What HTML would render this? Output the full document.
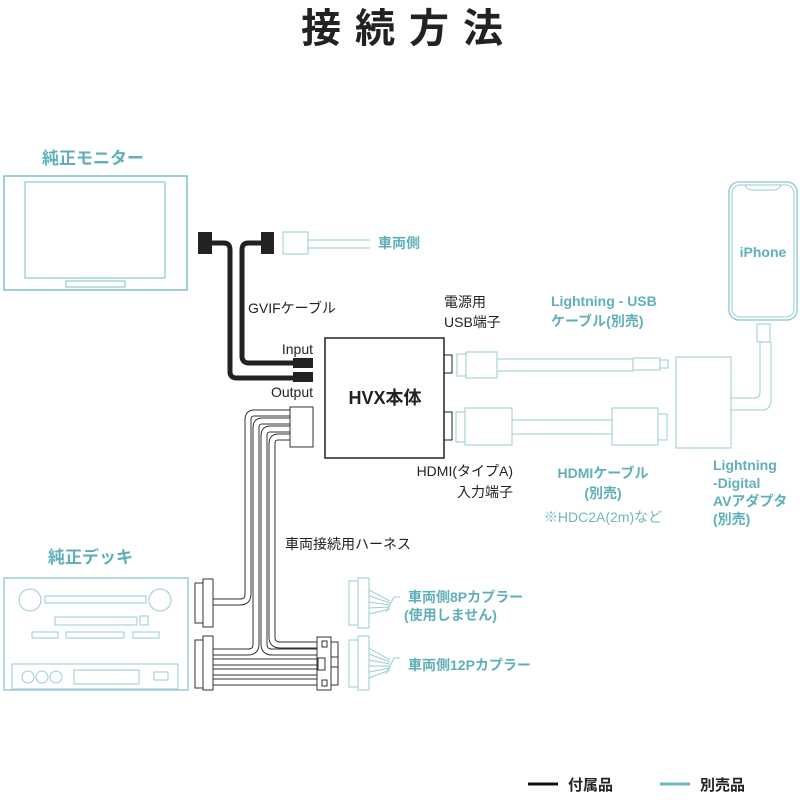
<!DOCTYPE html>
<html><head><meta charset="utf-8"><style>
html,body{margin:0;padding:0;background:#fff}
svg{display:block}
text{font-family:"Liberation Sans","Noto Sans CJK JP",sans-serif}
.t{fill:#5fb0b8;font-weight:bold}
.k{fill:#222}
</style></head><body>
<svg width="800" height="800" viewBox="0 0 800 800">
<text x="409" y="42" text-anchor="middle" font-size="40" font-weight="bold" letter-spacing="14" class="k">接続方法</text>

<!-- monitor -->
<text x="42" y="164" font-size="17" class="t">純正モニター</text>
<rect x="4" y="176" width="183" height="114" fill="none" stroke="#7cbfc5" stroke-width="1.5"/>
<rect x="25" y="182" width="140" height="96" fill="none" stroke="#7cbfc5" stroke-width="1"/>
<rect x="66" y="281" width="59" height="6" fill="none" stroke="#7cbfc5" stroke-width="1"/>

<!-- GVIF -->
<path d="M212 243 H224 Q230 243 230 250 V372 Q230 378 237 378 H295" fill="none" stroke="#222" stroke-width="5"/>
<path d="M261 243 H248 Q242 243 242 250 V356 Q242 363 249 363 H295" fill="none" stroke="#222" stroke-width="5"/>
<rect x="198" y="232" width="14" height="22" fill="#222"/>
<rect x="261" y="232" width="13" height="22" fill="#222"/>
<rect x="293" y="358" width="20" height="10" fill="#222"/>
<rect x="293" y="372" width="20" height="10" fill="#222"/>
<rect x="283" y="232" width="25" height="22" fill="none" stroke="#9acdd1"/>
<path d="M308 240 H370 M308 248 H370" stroke="#9acdd1"/>
<text x="378" y="248" font-size="14" class="t">車両側</text>
<text x="248" y="313" font-size="14" class="k">GVIFケーブル</text>
<text x="313" y="354" font-size="14" class="k" text-anchor="end">Input</text>
<text x="313" y="397" font-size="14" class="k" text-anchor="end">Output</text>

<!-- HVX -->
<rect x="325" y="338" width="119" height="120" fill="#fff" stroke="#222" stroke-width="1.5"/>
<text x="385" y="404" font-size="18" font-weight="bold" class="k" text-anchor="middle">HVX本体</text>
<rect x="444" y="355" width="8" height="18" fill="none" stroke="#222"/>
<rect x="444" y="412" width="8" height="28" fill="none" stroke="#222"/>

<text x="444" y="307" font-size="14" class="k">電源用</text>
<text x="444" y="327" font-size="14" class="k">USB端子</text>
<text x="513" y="476" font-size="14" class="k" text-anchor="end">HDMI(タイプA)</text>
<text x="513" y="497" font-size="14" class="k" text-anchor="end">入力端子</text>

<!-- USB cable -->
<g fill="none" stroke="#9acdd1">
<rect x="457" y="354" width="9" height="22"/>
<rect x="466" y="352" width="31" height="26"/>
<path d="M497 359 H633 M497 371 H633"/>
<rect x="633" y="358" width="27" height="12"/>
<rect x="660" y="360" width="8" height="8"/>
<!-- HDMI cable -->
<rect x="456" y="412" width="9" height="30"/>
<rect x="465" y="408" width="47" height="37"/>
<path d="M512 420 H612 M512 434 H612"/>
<rect x="612" y="408" width="46" height="37"/>
<rect x="658" y="414" width="9" height="26"/>
<!-- adapter -->
<rect x="676" y="357" width="55" height="91"/>
<path d="M731 398 H754 Q760 398 760 392 V342 M731 410 H762 Q771 410 771 400 V342"/>
<rect x="757" y="324" width="13" height="18"/>
<!-- iPhone -->
<rect x="729" y="182" width="68" height="138" rx="10" stroke-width="1.5"/>
<rect x="732" y="185" width="62" height="132" rx="8"/>
<path d="M745 185 Q747 190 752 190 H774 Q779 190 781 185"/>
</g>
<text x="763" y="257" font-size="14" class="t" text-anchor="middle">iPhone</text>
<text x="551" y="306" font-size="14" class="t">Lightning - USB</text>
<text x="551" y="326" font-size="14" class="t">ケーブル(別売)</text>
<text x="603" y="478" font-size="14" class="t" text-anchor="middle">HDMIケーブル</text>
<text x="603" y="498" font-size="14" class="t" text-anchor="middle">(別売)</text>
<text x="603" y="522" font-size="14" fill="#6fb7bd" text-anchor="middle">※HDC2A(2m)など</text>
<text x="713" y="470" font-size="14" class="t">Lightning</text>
<text x="713" y="488" font-size="14" class="t">-Digital</text>
<text x="713" y="506" font-size="14" class="t">AVアダプタ</text>
<text x="713" y="524" font-size="14" class="t">(別売)</text>

<!-- harness -->
<g fill="none" stroke-linejoin="round">
<g stroke="#333" stroke-width="7">
<path d="M292 413 H254 Q248 413 248 420 V594 Q248 602 240 602 H212"/>
<path d="M292 421 H262 Q256 421 256 428 V644 Q256 652 248 652 H212"/>
<path d="M292 429 H270 Q264 429 264 436 V644 Q264 652 272 652 H318"/>
<path d="M292 437 H278 Q272 437 272 444 V637 Q272 645 280 645 H318"/>
<path d="M212 662 H318 M212 672 H318 M212 682 H318"/>
</g>
<g stroke="#fff" stroke-width="5">
<path d="M292 413 H254 Q248 413 248 420 V594 Q248 602 240 602 H212"/>
<path d="M292 421 H262 Q256 421 256 428 V644 Q256 652 248 652 H212"/>
<path d="M292 429 H270 Q264 429 264 436 V644 Q264 652 272 652 H318"/>
<path d="M292 437 H278 Q272 437 272 444 V637 Q272 645 280 645 H318"/>
<path d="M212 662 H318 M212 672 H318 M212 682 H318"/>
</g>
</g>
<g fill="#fff" stroke="#333">
<rect x="290" y="407" width="23" height="40"/>
<rect x="195" y="583" width="8" height="40"/>
<rect x="203" y="579" width="10" height="48"/>
<rect x="195" y="640" width="8" height="48"/>
<rect x="203" y="636" width="10" height="54"/>
<rect x="317" y="637" width="14" height="53"/>
<rect x="331" y="642" width="7" height="43"/>
<rect x="322" y="641" width="5" height="6"/>
<rect x="318" y="658" width="7" height="12"/>
<rect x="331" y="657" width="7" height="10"/>
<rect x="322" y="680" width="5" height="6"/>
</g>
<text x="285" y="549" font-size="14" class="k">車両接続用ハーネス</text>

<!-- deck -->
<text x="48" y="563" font-size="17" class="t">純正デッキ</text>
<g fill="none" stroke="#9acdd1">
<rect x="4" y="578" width="184" height="112" stroke-width="1.5"/>
<circle cx="30" cy="600" r="11"/><circle cx="160" cy="600" r="11"/>
<rect x="45" y="596" width="101" height="7"/>
<rect x="55" y="617" width="82" height="8"/><rect x="140" y="616" width="8" height="9"/>
<rect x="32" y="632" width="26" height="6"/><rect x="66" y="632" width="58" height="6"/><rect x="133" y="632" width="26" height="6"/>
<rect x="12" y="664" width="166" height="25"/>
<circle cx="28" cy="677" r="6"/><circle cx="42" cy="677" r="6"/><circle cx="56" cy="677" r="6"/>
<rect x="74" y="670" width="65" height="14"/><rect x="154" y="672" width="14" height="8"/>
<!-- vehicle couplers -->
<rect x="349" y="581" width="9" height="44"/><rect x="358" y="578" width="11" height="50"/>
<path d="M369 590 L390 601 M369 596 L390 603 M369 602 L390 605 M369 608 L390 607 M369 614 L390 609 M386 612 L394 597 M394 597 H400"/>
<rect x="349" y="640" width="9" height="47"/><rect x="358" y="636" width="11" height="54"/>
<path d="M369 648 L390 660 M369 654 L390 662 M369 660 L390 664 M369 666 L390 666 M369 672 L390 668 M369 678 L390 670 M386 674 L394 658 M394 658 H400"/>
</g>
<text x="408" y="602" font-size="14" class="t">車両側8Pカプラー</text>
<text x="404" y="620" font-size="14" class="t">(使用しません)</text>
<text x="408" y="670" font-size="14" class="t">車両側12Pカプラー</text>

<!-- legend -->
<path d="M528 784 H558" stroke="#111" stroke-width="3"/>
<text x="568" y="790" font-size="15" font-weight="bold" class="k">付属品</text>
<path d="M660 784 H690" stroke="#6fb7bd" stroke-width="3"/>
<text x="700" y="790" font-size="15" font-weight="bold" class="k">別売品</text>
</svg>
</body></html>
